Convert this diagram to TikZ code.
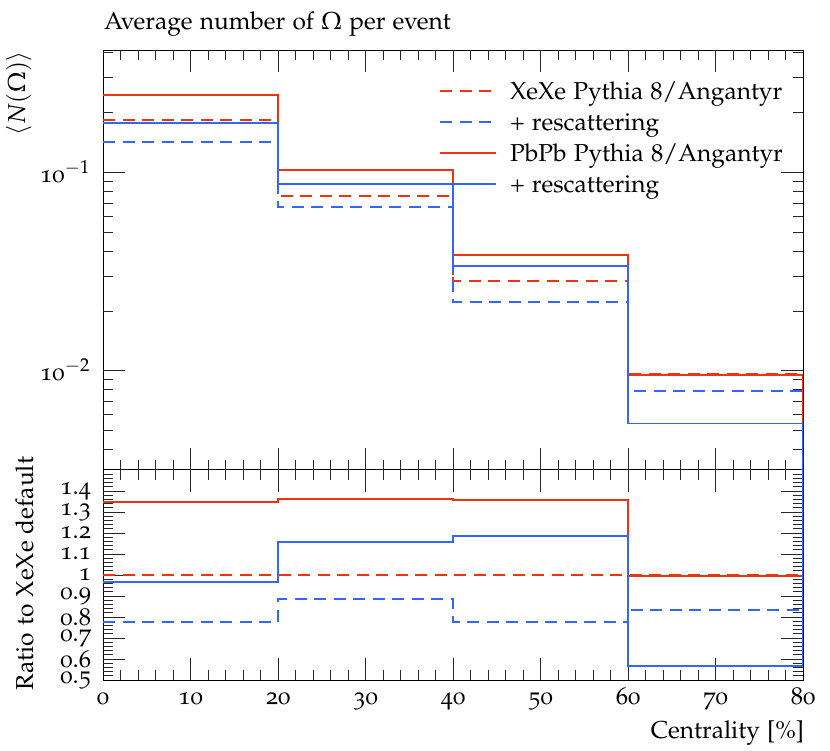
\documentclass[tikz,border=0pt]{standalone}
\usepackage[T1]{fontenc}
\usepackage[osf]{mathpazo}
\definecolor{rred}{HTML}{EE3311}
\definecolor{rblue}{HTML}{3366FF}
\begin{document}
\begin{tikzpicture}[x=1pt,y=-1pt,
  every node/.style={inner sep=0pt, outer sep=0pt},
  font=\fontsize{24.5}{29}\selectfont,
  axisline/.style={line width=1pt, black},
  tk/.style={line width=0.9pt, black!85},
  hist/.style={line width=1.8pt, line join=miter},
  dsh/.style={dash pattern=on 12pt off 7.5pt}]
\useasboundingbox (0,0) rectangle (830,750);
% texts
\node[anchor=base west] (title) at (104,29.5) {Average number of $\Omega$ per event};
\node[rotate=90, anchor=base east] (ylab) at (25,51) {$\langle N(\Omega)\rangle$};
\node[rotate=90, anchor=base east] (rlab) at (33,457) {Ratio to XeXe default};
\node[anchor=base east] (xlab) at (804,738) {Centrality [\%]};
% frames
\draw[axisline] (103,50) rectangle (803,680);
\draw[axisline] (103,469.5) -- (803,469.5);
% x ticks
\foreach \c in {2,4,6,8,12,14,16,18,22,24,26,28,32,34,36,38,42,44,46,48,52,54,56,58,62,64,66,68,72,74,76,78}{
  \draw[tk] ({103+\c*8.75},50) -- ++(0,10);
  \draw[tk] ({103+\c*8.75},469.5) -- ++(0,-10);
  \draw[tk] ({103+\c*8.75},469.5) -- ++(0,10);
  \draw[tk] ({103+\c*8.75},680) -- ++(0,-10);
}
\foreach \c in {10,20,...,70}{
  \draw[tk] ({103+\c*8.75},50) -- ++(0,22);
  \draw[tk] ({103+\c*8.75},469.5) -- ++(0,-22);
  \draw[tk] ({103+\c*8.75},469.5) -- ++(0,22);
  \draw[tk] ({103+\c*8.75},680) -- ++(0,-22);
}
\foreach \c in {0,10,...,80}{
  \node[anchor=base] (xl\c) at ({103+\c*8.75},704) {\c};
}
% upper y ticks (log)
\foreach \y in {449.65,430.4,414.7,401.4,389.9,379.8,311.0,276.0,251.25,232.0,216.3,203.0,191.5,181.4,112.6,77.6,52.85}{
  \draw[tk] (103,\y) -- ++(10,0);
  \draw[tk] (803,\y) -- ++(-10,0);
}
\foreach \y in {172.3,370.7}{
  \draw[tk] (103,\y) -- ++(22,0);
  \draw[tk] (803,\y) -- ++(-22,0);
}
\node[anchor=base east] (ym1) at (90,182) {10$^{-1}$};
\node[anchor=base east] (ym2) at (90,380.5) {10$^{-2}$};
% lower y ticks
\foreach \k in {1,...,49}{
  \draw[tk] (103,{680-\k*4.2}) -- ++(10,0);
  \draw[tk] (803,{680-\k*4.2}) -- ++(-10,0);
}
\foreach \k in {1,...,9}{
  \draw[tk] (103,{680-\k*21}) -- ++(22,0);
  \draw[tk] (803,{680-\k*21}) -- ++(-22,0);
}
\foreach \t/\y in {1.4/491,1.3/512,1.2/533,1.1/554,1/575,0.9/596,0.8/617,0.7/638,0.6/659,0.5/680}{
  \node[anchor=east] (rl\y) at (91,\y) {\t};
}
% upper histograms
\begin{scope}
\clip (103,50) rectangle (803,469.5);
\draw[hist, rred, dsh] (103,120.3) -- (278,120.3) -- (278,196) -- (453,196) -- (453,281) -- (628,281) -- (628,374.3) -- (803,374.3) -- (803,470);
\draw[hist, rblue, dsh] (103,142.3) -- (278,142.3) -- (278,207) -- (453,207) -- (453,302.3) -- (628,302.3) -- (628,391) -- (803,391) -- (803,470);
\draw[hist, rred] (103,94.7) -- (278,94.7) -- (278,169.7) -- (453,169.7) -- (453,255) -- (628,255) -- (628,375.3) -- (803,375.3) -- (803,470);
\draw[hist, rred] (278,169.7) -- (278,193);
\draw[hist, rred] (453,255) -- (453,274.5);
\draw[hist, rblue] (103,122.7) -- (278,122.7) -- (278,183.7) -- (453,183.7) -- (453,266.3) -- (628,266.3) -- (628,423.5) -- (803,423.5) -- (803,470);
\draw[hist, rblue] (278,183.7) -- (278,193);
\draw[hist, rblue] (453,266.3) -- (453,273);
\end{scope}
% lower histograms
\begin{scope}
\clip (103,469.5) rectangle (803,680);
\draw[hist, rred, dsh] (103,575) -- (803,575) -- (803,469);
\draw[hist, rblue, dsh] (103,622.3) -- (278,622.3) -- (278,599.3) -- (453,599.3) -- (453,621.7) -- (628,621.7) -- (628,610) -- (803,610) -- (803,469);
\draw[hist, rred] (103,501.7) -- (278,501.7) -- (278,499.3) -- (453,499.3) -- (453,500) -- (628,500) -- (628,576) -- (803,576) -- (803,469);
\draw[hist, rblue] (103,581.7) -- (278,581.7) -- (278,541.7) -- (453,541.7) -- (453,535.7) -- (628,535.7) -- (628,665.7) -- (803,665.7) -- (803,469);
\end{scope}
% legend
\draw[hist, rred, dsh] (440,90.7) -- (496,90.7);
\node[anchor=base west] (l1) at (510,99.3) {XeXe Pythia 8/Angantyr};
\draw[hist, rblue, dsh] (440,122.2) -- (496,122.2);
\node[anchor=base west] (l2) at (510,130.8) {+ rescattering};
\draw[hist, rred] (440,153.3) -- (496,153.3);
\node[anchor=base west] (l3) at (510,161.8) {PbPb Pythia 8/Angantyr};
\draw[hist, rblue] (440,184.2) -- (496,184.2);
\node[anchor=base west] (l4) at (510,192.8) {+ rescattering};
\end{tikzpicture}
\end{document}
